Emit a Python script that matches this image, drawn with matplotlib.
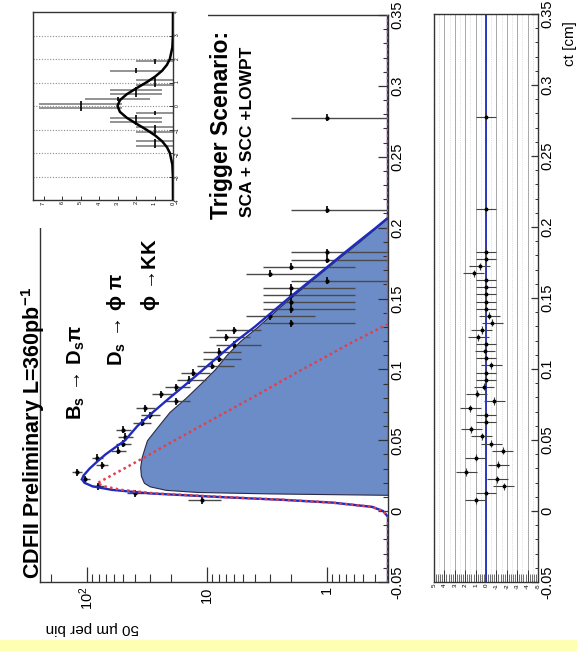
import numpy as np
import matplotlib
matplotlib.use("Agg")
import matplotlib.pyplot as plt
from matplotlib.patches import Rectangle
from matplotlib.ticker import FixedLocator, MultipleLocator, NullFormatter

plt.rcParams['font.family'] = ['Liberation Sans', 'DejaVu Sans']
plt.rcParams['mathtext.fontset'] = 'custom'
plt.rcParams['mathtext.rm'] = 'Liberation Sans'
plt.rcParams['mathtext.it'] = 'Liberation Sans:italic'
plt.rcParams['mathtext.bf'] = 'Liberation Sans:bold'

# ---------------- data ----------------
# proper-decay-length histogram (50 um bins)
ct_data = [0.0075, 0.0125, 0.0175, 0.0225, 0.0275, 0.0325, 0.0375, 0.0425, 0.0475,
           0.0525, 0.0575, 0.0625, 0.0675, 0.0725, 0.0775, 0.0825, 0.0875, 0.0925,
           0.0975, 0.1025, 0.1075, 0.1125, 0.1175, 0.1225, 0.1275, 0.1325, 0.1375,
           0.1425, 0.1475, 0.1525, 0.1575, 0.1625, 0.1675, 0.1725, 0.1775, 0.1825,
           0.2125, 0.2775]
counts = [11, 40, 81, 104, 121, 75, 82, 55, 50,
          48, 50, 35, 30, 33, 18, 24, 18, 14,
          13, 9, 8, 8, 6, 7, 6, 2, 3,
          2, 2, 2, 2, 1, 3, 2, 1, 1,
          1, 1]

# total fit
ct_fit = [-0.05, -0.004, 0.0, 0.003, 0.006, 0.008, 0.010, 0.0125, 0.015, 0.0175,
          0.020, 0.0225, 0.025, 0.030, 0.035, 0.040, 0.045, 0.050, 0.060, 0.070,
          0.080, 0.090, 0.100, 0.110, 0.120, 0.130, 0.140, 0.150, 0.160, 0.170,
          0.180, 0.190, 0.200, 0.207, 0.35]
fit_total = [0.01, 0.3, 0.34, 0.42, 0.9, 2.4, 8, 30, 62, 90,
             105, 110, 107, 95, 82, 70, 58, 48, 38, 28,
             20.4, 14.7, 10.7, 7.8, 5.7, 4.0, 2.9, 2.1, 1.5, 1.07,
             0.77, 0.55, 0.39, 0.31, 0.01]

# signal component (shaded)
ct_sig = [0.0115, 0.0125, 0.0135, 0.015, 0.0175, 0.020, 0.025, 0.031, 0.038, 0.045,
          0.050, 0.060, 0.070, 0.080, 0.090, 0.100, 0.110, 0.120, 0.130, 0.140,
          0.150, 0.160, 0.170, 0.180, 0.190, 0.200, 0.207]
fit_sig = [0.31, 3, 12, 22, 30, 33.5, 35.5, 36, 35, 33,
           31.6, 25.5, 20.5, 15, 11.3, 8.6, 6.9, 5.3, 3.8, 2.8,
           2.05, 1.48, 1.06, 0.76, 0.54, 0.39, 0.31]

# background component (dotted)
ct_bkg = [-0.05, -0.004, 0.0, 0.003, 0.006, 0.008, 0.010, 0.0125, 0.015, 0.0175,
          0.0197, 0.030, 0.040, 0.050, 0.060, 0.070, 0.080, 0.090, 0.100, 0.110,
          0.120, 0.132, 0.35]
fit_bkg = [0.01, 0.3, 0.34, 0.42, 0.9, 2.3, 7.5, 27, 52, 72,
           82, 49, 30, 18.5, 11.3, 6.9, 4.2, 2.6, 1.6, 0.97,
           0.59, 0.31, 0.01]

# residuals (data - fit) / error
ct_res = [0.0075, 0.0125, 0.0175, 0.0225, 0.0275, 0.0325, 0.0375, 0.0425, 0.0475,
          0.0525, 0.0575, 0.0625, 0.0675, 0.0725, 0.0775, 0.0825, 0.0875, 0.0925,
          0.0975, 0.1025, 0.1075, 0.1125, 0.1175, 0.1225, 0.1275, 0.1325, 0.1375,
          0.1425, 0.1475, 0.1525, 0.1575, 0.1625, 0.1675, 0.1725, 0.1775, 0.1825,
          0.2125, 0.2775]
residuals = [1.0, 0.0, -1.7, -1.1, 1.9, -1.2, 1.0, -1.6, -0.5,
             0.4, 1.4, 0.0, 0.0, 1.5, -0.8, 0.9, 0.2, 0.0,
             0.0, -0.5, 0.0, 0.1, 0.0, 0.75, 0.4, -0.6, -0.3,
             0.0, 0.0, 0.0, 0.0, 0.0, 1.2, 0.6, 0.0, 0.0,
             0.0, 0.0]

# pull distribution (inset)
pull_bins = [1.9, 1.5, 1.1, 0.9, 0.7, 0.5, 0.3, 0.1, -0.1, -0.3, -0.5, -0.7, -0.9,
             -1.1, -1.5, -1.7]
pull_counts = [1, 2, 1, 1, 2, 2, 3, 5, 5, 1, 2, 2, 1, 1, 1, 1]
pull_curve_x = [-4.0, -3.0, -2.5, -2.0, -1.75, -1.5, -1.25, -1.0, -0.75, -0.5, -0.25,
                0.0, 0.25, 0.5, 0.75, 1.0, 1.25, 1.5, 1.75, 2.0, 2.5, 3.0, 4.0]
pull_curve_y = [0.0, 0.005, 0.034, 0.17, 0.33, 0.59, 0.97, 1.45, 1.99, 2.50, 2.87,
                3.0, 2.87, 2.50, 1.99, 1.45, 0.97, 0.59, 0.33, 0.17, 0.034, 0.005, 0.0]

ct_ticks = [-0.05, 0.0, 0.05, 0.1, 0.15, 0.2, 0.25, 0.3, 0.35]
ct_labels = ['-0.05', '0', '0.05', '0.1', '0.15', '0.2', '0.25', '0.3', '0.35']
log_ticks = [1, 10, 100]
log_labels = ['1', '10', '$10^{2}$']

# ---------------- figure ----------------
W, H = 577, 651
fig = plt.figure(figsize=(W / 100, H / 100), dpi=100)
fig.patch.set_facecolor('white')


def box(x0, y0, x1, y1):
    return [x0 / W, 1 - y1 / H, (x1 - x0) / W, (y1 - y0) / H]


def fp(x, y):
    return x / W, 1 - y / H


FLOOR = 0.31
BLUE = '#1f2bbf'
RED = '#e0404a'
FILL = '#6c8cc8'
SPINE = '#333333'

# ---- main panel: counts run horizontally (log, decreasing to the right), ct vertically
ax = fig.add_axes(box(40, 15, 388, 582), zorder=0)
ax.set_xscale('log')
ax.set_xlim(246, FLOOR)
ax.set_ylim(-0.05, 0.35)
for s in ax.spines.values():
    s.set_linewidth(1.0)
    s.set_color(SPINE)

ax.xaxis.set_major_locator(FixedLocator(log_ticks))
ax.xaxis.set_major_formatter(matplotlib.ticker.FixedFormatter(log_labels))
minor_log = [m * 10.0 ** e for e in (-1, 0, 1, 2) for m in range(2, 10)]
ax.xaxis.set_minor_locator(FixedLocator(minor_log))
ax.xaxis.set_minor_formatter(NullFormatter())
ax.tick_params(axis='x', which='major', direction='in', length=10.5, width=0.9,
               labelsize=10.5, labelrotation=90, pad=3, color=SPINE)
ax.tick_params(axis='x', which='minor', direction='in', length=5.5, width=0.8, color=SPINE)

ax.yaxis.tick_right()
ax.yaxis.set_major_locator(FixedLocator(ct_ticks))
ax.yaxis.set_major_formatter(matplotlib.ticker.FixedFormatter(ct_labels))
ax.yaxis.set_minor_locator(MultipleLocator(0.01))
ax.tick_params(axis='y', which='major', direction='in', length=7, width=0.9,
               labelsize=10.5, labelrotation=90, pad=2, color=SPINE)
ax.tick_params(axis='y', which='minor', direction='in', length=3.5, width=0.8, color=SPINE)
for lab in ax.get_yticklabels():
    lab.set_va('center')

ax.fill_betweenx(ct_sig, FLOOR, np.array(fit_sig), facecolor=FILL,
                 edgecolor='#2a2a45', linewidth=0.8, zorder=1)

cnt = np.array(counts, float)
err = np.sqrt(cnt)
lo = np.minimum(err, cnt - 0.2)
ax.errorbar(cnt, ct_data, xerr=[lo, err], fmt='none', ecolor='#4a4a4a',
            elinewidth=1.0, zorder=3)
ax.errorbar(cnt, ct_data, yerr=0.0025, fmt='none', ecolor='black',
            elinewidth=1.2, zorder=4)
ax.plot(cnt, ct_data, 'o', ms=2.0, color='black', zorder=4)

ax.plot(np.maximum(fit_total, FLOOR), ct_fit, color=BLUE, lw=1.7, zorder=5)
ax.plot(np.maximum(fit_bkg, FLOOR), ct_bkg, color=RED, lw=1.8,
        ls=(0, (1, 1.3)), zorder=6)

# ---- residual panel
axr = fig.add_axes(box(434, 14, 538, 582), zorder=0)
axr.set_xlim(5, -5)
axr.set_ylim(-0.05, 0.35)
for s in axr.spines.values():
    s.set_linewidth(1.0)
    s.set_color(SPINE)
for v in range(-4, 5):
    axr.axvline(v, color='#9a9a9a', lw=0.6, zorder=0)
for v in np.arange(-4.5, 5, 1.0):
    axr.axvline(v, color='#c4c4c4', lw=0.5, ls=':', zorder=0)
axr.axvline(0, color=BLUE, lw=1.3, zorder=2)
axr.errorbar(residuals, ct_res, xerr=1.0, yerr=0.0025, fmt='o', ms=1.8,
             color='black', ecolor='#444444', elinewidth=0.8, zorder=3)

axr.xaxis.set_major_locator(MultipleLocator(1))
axr.xaxis.set_minor_locator(MultipleLocator(0.2))
axr.xaxis.set_major_formatter(matplotlib.ticker.FuncFormatter(lambda v, p: f'{v:.0f}'))
axr.tick_params(axis='x', which='major', direction='in', length=9, width=0.7,
                labelsize=4.5, labelrotation=90, pad=1, color=SPINE)
axr.tick_params(axis='x', which='minor', direction='in', length=6, width=0.5, color=SPINE)
axr.yaxis.tick_right()
axr.yaxis.set_major_locator(FixedLocator(ct_ticks))
axr.yaxis.set_major_formatter(matplotlib.ticker.FixedFormatter(ct_labels))
axr.yaxis.set_minor_locator(MultipleLocator(0.01))
axr.tick_params(axis='y', which='major', direction='in', length=5, width=0.9,
                labelsize=10.5, labelrotation=90, pad=2, color=SPINE)
axr.tick_params(axis='y', which='minor', direction='in', length=2.5, width=0.7, color=SPINE)
for lab in axr.get_yticklabels():
    lab.set_va('center')

# ---- inset: pull distribution
fig.patches.append(Rectangle((0, 1 - 228 / H), 208 / W, 228 / H,
                             transform=fig.transFigure, facecolor='white',
                             edgecolor='none', zorder=1))
axi = fig.add_axes(box(33, 12, 173, 200), zorder=2)
axi.set_xlim(7.57, 0)
axi.set_ylim(-4, 4)
for s in axi.spines.values():
    s.set_linewidth(1.0)
    s.set_color(SPINE)
for p in range(-3, 4):
    axi.axhline(p, color='#8a8a8a', lw=0.8, ls=(0, (1, 1.5)), zorder=0)
pc = np.array(pull_counts, float)
pe = np.sqrt(pc)
plo = np.minimum(pe, pc)
axi.errorbar(pc, pull_bins, xerr=[plo, pe], fmt='none', ecolor='#8a8a8a',
             elinewidth=1.3, zorder=2)
axi.errorbar(pc, pull_bins, yerr=0.1, fmt='none', ecolor='black',
             elinewidth=1.2, zorder=3)
axi.plot(pull_curve_y, pull_curve_x, color='black', lw=1.8, zorder=4)
axi.xaxis.set_major_locator(MultipleLocator(1))
axi.tick_params(axis='x', direction='in', length=3, width=0.7, labelsize=4,
                labelrotation=90, pad=1, color=SPINE)
axi.yaxis.tick_right()
axi.yaxis.set_major_locator(MultipleLocator(1))
axi.tick_params(axis='y', direction='in', length=3, width=0.7, labelsize=3.5,
                labelrotation=90, pad=1, color=SPINE)

# ---- texts
fig.text(*fp(33, 433), r'CDFII Preliminary L=360pb$^{\mathbf{-1}}$', rotation=90,
         ha='center', va='center', fontsize=15.5, fontweight='bold')
fig.text(*fp(76, 372), r'$\mathbf{B_{s}\,\rightarrow\, D_{s}\pi}$', rotation=90,
         ha='center', va='center', fontsize=14.5)
fig.text(*fp(116, 319), r'$\mathbf{D_{s}\,\rightarrow\, \phi\ \pi}$', rotation=90,
         ha='center', va='center', fontsize=14.5)
fig.text(*fp(150, 275), r'$\mathbf{\phi\,\rightarrow\! KK}$', rotation=90,
         ha='center', va='center', fontsize=14.5)
fig.text(*fp(222, 125), 'Trigger Scenario:', rotation=90, ha='center', va='center',
         fontsize=16.5, fontweight='bold')
fig.text(*fp(248, 132), 'SCA + SCC +LOWPT', rotation=90, ha='center', va='center',
         fontsize=12.5, fontweight='bold')
fig.text(*fp(92, 628), '50 µm per bin', rotation=180, ha='center', va='center',
         fontsize=11)
fig.text(*fp(570, 44), 'ct [cm]', rotation=90, ha='center', va='center', fontsize=11)

# bottom band
fig.patches.append(Rectangle((0, 0), 1, 11 / H, transform=fig.transFigure,
                             facecolor='#ffffb4', edgecolor='none', zorder=1))

fig.savefig('out.png', dpi=100)
